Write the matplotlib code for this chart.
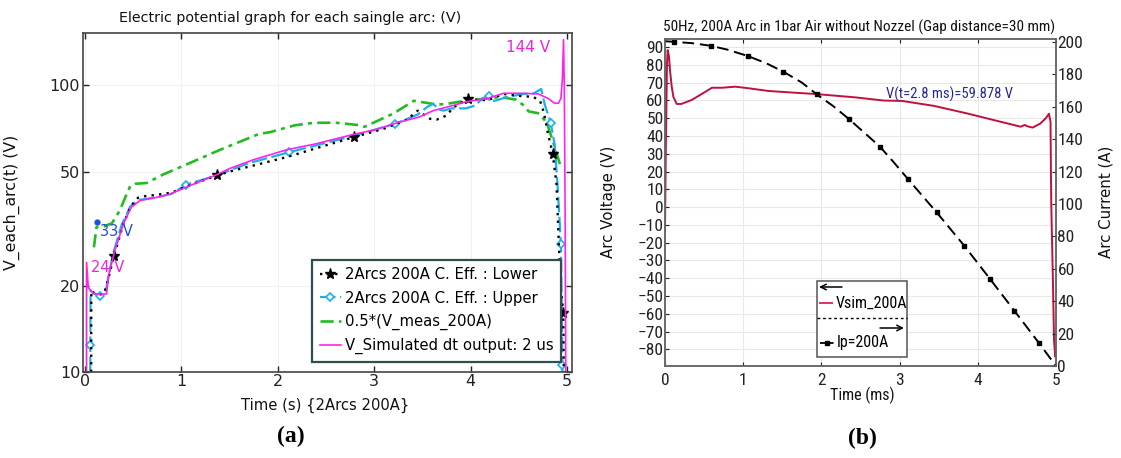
import numpy as np
import matplotlib
matplotlib.use("Agg")
import matplotlib.pyplot as plt
from matplotlib.ticker import NullLocator, FixedLocator, FixedFormatter
from matplotlib.patches import Rectangle
from matplotlib.lines import Line2D

W, H = 1121, 458
NARROW = ['Liberation Sans Narrow', 'DejaVu Sans Condensed', 'Roboto Condensed', 'DejaVu Sans']

# ---------------- panel (a) data ----------------
sim_t = [0.017, 0.0171, 0.035, 0.08, 0.12, 0.225, 0.24, 0.31, 0.40, 0.48, 0.57, 0.74, 0.88, 1.05,
         1.37, 1.50, 1.75, 2.09, 2.40, 2.78, 3.00, 3.27, 3.47, 3.61, 3.82, 3.95, 4.17, 4.34, 4.54,
         4.70, 4.80, 4.87, 4.91, 4.935, 4.95, 4.962, 4.97, 4.978, 4.985]
sim_v = [10, 24.1, 19.7, 18.9, 18.7, 18.7, 21.4, 26.5, 32.9, 37.5, 39.6, 40.6, 41.7, 44.1,
         48.8, 51.2, 55.0, 59.5, 62.5, 67.3, 69.8, 74.5, 77.5, 81.5, 85.0, 87.5, 89.8, 93.7, 93.7,
         93.2, 90.0, 86.5, 86.5, 90.0, 105, 144, 100, 40, 10]

lower_t = [0.065, 0.066, 0.10, 0.15, 0.20, 0.24, 0.30, 0.40, 0.48, 0.55, 0.62, 0.75, 0.90, 1.05,
           1.37, 1.50, 1.80, 2.09, 2.45, 2.79, 3.10, 3.34, 3.45, 3.58, 3.65, 3.75, 3.82, 3.92,
           3.97, 4.17, 4.34, 4.51, 4.65, 4.72, 4.76, 4.80, 4.85, 4.89, 4.91, 4.93, 4.96, 4.965]
lower_v = [10, 19.2, 18.8, 18.6, 18.8, 21.0, 25.3, 33.0, 38.0, 40.5, 41.0, 41.5, 42.2, 44.3,
           48.5, 50.0, 53.0, 56.1, 61.0, 65.9, 70.5, 75.9, 81.5, 76.3, 75.9, 78.4, 83.7, 87.5,
           89.3, 88.6, 93.2, 91.7, 91.0, 88.0, 80.0, 68.0, 57.7, 45.0, 30.0, 20.0, 16.1, 10]
lower_mark_t = [0.30, 1.37, 2.79, 3.97, 4.85, 4.96]

upper_t = [0.055, 0.056, 0.058, 0.10, 0.16, 0.21, 0.24, 0.29, 0.38, 0.47, 0.56, 0.74, 0.90, 1.05,
           1.37, 1.70, 2.12, 2.78, 3.22, 3.45, 3.55, 3.61, 3.68, 3.72, 3.80, 3.95, 4.05, 4.12,
           4.19, 4.23, 4.27, 4.38, 4.55, 4.65, 4.73, 4.77, 4.83, 4.87, 4.90, 4.935, 4.95, 4.952]
upper_v = [10, 12.4, 19.2, 18.7, 18.4, 18.8, 21.0, 25.7, 32.5, 37.8, 39.8, 40.6, 41.8, 45.0,
           48.5, 53.5, 58.4, 66.5, 73.4, 79.0, 84.0, 86.0, 82.0, 81.5, 83.0, 83.0, 85.0, 90.0,
           91.5, 88.0, 88.6, 91.0, 93.2, 93.5, 97.0, 85.0, 73.8, 62.0, 45.0, 27.9, 10.6, 10]
upper_mark_t = [0.056, 0.16, 1.05, 2.12, 3.22, 4.19, 4.83, 4.935, 4.95]

meas_t = [0.093, 0.12, 0.20, 0.28, 0.36, 0.43, 0.47, 0.52, 0.64, 0.81, 1.03, 1.40, 1.80, 1.92,
          2.18, 2.37, 2.60, 2.85, 2.90, 3.20, 3.41, 3.65, 3.75, 3.97, 4.17, 4.30, 4.47, 4.55,
          4.60, 4.71, 4.79, 4.87, 4.94]
meas_v = [27.2, 32.0, 32.2, 33.0, 36.5, 41.5, 44.5, 45.3, 45.6, 48.8, 52.5, 59.5, 67.5, 68.6,
          72.5, 73.9, 74.0, 72.5, 71.6, 79.7, 88.2, 85.6, 86.0, 88.6, 89.7, 91.0, 89.0, 85.0,
          81.0, 79.7, 73.8, 61.0, 51.0]
meas_start = (0.12, 33.3)

# ---------------- panel (b) data ----------------
vsim_t = [0.0, 0.01, 0.025, 0.034, 0.05, 0.064, 0.085, 0.107, 0.15, 0.21, 0.34, 0.47, 0.60, 0.73,
          0.90, 1.07, 1.32, 1.66, 1.92, 2.43, 2.80, 3.03, 3.44, 3.86, 4.29, 4.55, 4.60, 4.63,
          4.70, 4.80, 4.87, 4.91, 4.93, 4.935, 4.94, 4.96, 4.975, 4.99, 5.0]
vsim_v = [-13, 30, 80, 88.3, 85, 77, 68, 62, 58, 58, 60.2, 63.6, 67.1, 67.1,
          67.7, 66.8, 65.3, 64.3, 63.6, 61.7, 59.9, 59.7, 56.9, 52.7, 48.0, 45.2, 46.2, 45.5,
          44.7, 47.0, 50.0, 52.5, 48.0, 20.0, 0.0, -40, -75, -84, -80]

ip_t = [0.0, 0.11, 0.35, 0.587, 0.80, 1.059, 1.30, 1.514, 1.75, 1.942, 2.15, 2.352, 2.55, 2.749,
        2.93, 3.111, 3.473, 3.826, 4.157, 4.466, 4.779, 5.0]
ip_a = [200.5, 200.2, 199.3, 197.7, 195.3, 191.4, 186.8, 181.7, 175.0, 167.7, 160.5, 152.5, 144.0,
        135.4, 125.5, 115.2, 94.9, 74.3, 53.7, 34.2, 14.4, 0.0]
ip_mark_t = [0.11, 0.587, 1.059, 1.514, 1.942, 2.352, 2.749, 3.111, 3.473, 3.826, 4.157, 4.466, 4.779]

left_yticks = [10, 20, 50, 100]
x_ticks = [0, 1, 2, 3, 4, 5]
volt_ticks = list(range(-80, 100, 10))
curr_ticks = list(range(0, 220, 20))


def P(x, y):
    return x / W, 1 - y / H


def idx(ts, marks):
    ts = np.asarray(ts)
    return [int(np.argmin(np.abs(ts - m))) for m in marks]


fig = plt.figure(figsize=(W / 100, H / 100), dpi=100)

# ================= panel (a) =================
ax1 = fig.add_axes([83 / W, 1 - 372 / H, 489 / W, 339 / H])
ax1.set_yscale('log')
ax1.set_xlim(-0.02, 5.05)
ax1.set_ylim(10, 152)
ax1.yaxis.set_major_locator(FixedLocator(left_yticks))
ax1.yaxis.set_major_formatter(FixedFormatter([str(v) for v in left_yticks]))
ax1.yaxis.set_minor_locator(NullLocator())
ax1.set_xticks(x_ticks)
ax1.grid(True, color='#f2f2f2', lw=0.8)
ax1.tick_params(direction='in', top=True, right=True, length=4, width=1, labelsize=11.5,
                colors='#222222', pad=2)
ax1.tick_params(axis='x', pad=1.5)
for s in ax1.spines.values():
    s.set_color('#444444')
    s.set_linewidth(1.2)

l_meas, = ax1.plot(meas_t, meas_v, color='#22bb22', lw=1.9, ls=(0, (5, 2, 1.5, 2)),
                   label='0.5*(V_meas_200A)')
l_up, = ax1.plot(upper_t, upper_v, color='#1ab0f0', lw=1.6, ls=(0, (7, 2)),
                 marker='D', ms=4.5, mfc='white', mec='#1ab0f0', mew=1.2,
                 markevery=idx(upper_t, upper_mark_t),
                 label='2Arcs 200A C. Eff. : Upper')
l_low, = ax1.plot(lower_t, lower_v, color='black', lw=1.7, ls=(0, (1, 2.2)), marker='*', ms=8,
                  markevery=idx(lower_t, lower_mark_t),
                  label='2Arcs 200A C. Eff. : Lower')
l_sim, = ax1.plot(sim_t, sim_v, color='#ff22ee', lw=1.2, label='V_Simulated dt output: 2 us')
ax1.plot([meas_start[0]], [meas_start[1]], 'o', color='#1f4fe0', ms=3.5)

leg = ax1.legend(handles=[l_low, l_up, l_meas, l_sim], loc='lower right',
                 bbox_to_anchor=(0.978, 0.03), borderaxespad=0, fontsize=10.7,
                 fancybox=False, edgecolor='#2f4f4f', framealpha=1,
                 labelspacing=0.55, handlelength=1.4, handletextpad=0.3, borderpad=0.5)
leg.get_frame().set_linewidth(1.6)

fig.text(*P(550, 48), '144 V', color='#ee22dd', fontsize=11, ha='right', va='center')
fig.text(*P(100, 232), '33 V', color='#1f4fe0', fontsize=10.5, ha='left', va='center')
fig.text(*P(91, 268), '24 V', color='#ee22dd', fontsize=10.5, ha='left', va='center')

fig.text(*P(290, 18), 'Electric potential graph for each saingle arc: (V)', fontsize=10.3,
         ha='center', va='center', color='#111111')
fig.text(*P(12, 202), 'V_each_arc(t) (V)', fontsize=11.3, rotation=90, ha='center',
         va='center', color='#111111')
fig.text(*P(325, 405), 'Time (s) {2Arcs 200A}', fontsize=10.6, ha='center', va='center',
         color='#111111')
fig.text(*P(291, 436), '(a)', fontsize=17, ha='center', va='center',
         family=['Liberation Serif', 'DejaVu Serif'], weight='bold')

# ================= panel (b) =================
ax2 = fig.add_axes([665 / W, 1 - 366 / H, 391 / W, 327 / H])
ax3 = ax2.twinx()
ax2.set_xlim(0, 5)
ax2.set_ylim(-89.3, 94.5)
ax3.set_ylim(0, 201.9)
ax2.set_xticks(x_ticks)
ax2.set_yticks(volt_ticks)
ax3.set_yticks(curr_ticks)
ax2.grid(True, color='#e8e8e8', lw=0.8)
ax2.tick_params(direction='in', top=True, length=3, labelsize=12.5, colors='#222222', pad=1)
ax2.tick_params(axis='x', pad=5)
ax3.tick_params(direction='in', length=3, labelsize=12.5, colors='#222222', pad=1)
for lab in ax2.get_xticklabels() + ax2.get_yticklabels() + ax3.get_yticklabels():
    lab.set_family(NARROW)
for a in (ax2, ax3):
    for s in a.spines.values():
        s.set_color('#666666')
        s.set_linewidth(1.1)

ax2.plot(vsim_t, vsim_v, color='#c0103e', lw=1.4)
ax3.plot(ip_t, ip_a, color='black', lw=1.4, ls=(0, (6, 3)), marker='s', ms=3.5,
         markevery=idx(ip_t, ip_mark_t))

fig.text(*P(886, 94), 'V(t=2.8 ms)=59.878 V', color='#25259a', fontsize=10.5, ha='left',
         va='center', family=NARROW)

# manual legend (panel b)
def fx(x):
    return (x - 665) / 391


def fy(y):
    return (366 - y) / 327


T = ax3.transAxes
ax3.add_patch(Rectangle((fx(817), fy(357)), fx(907) - fx(817), fy(281) - fy(357),
                        transform=T, facecolor='white', edgecolor='#555555', lw=1.1,
                        zorder=10, clip_on=False))
ax3.annotate('', xy=(fx(819), fy(287)), xytext=(fx(842), fy(287)), xycoords=T, textcoords=T,
             arrowprops=dict(arrowstyle='->', color='black', lw=1.1, shrinkA=0, shrinkB=0),
             zorder=11)
ax3.add_line(Line2D([fx(820), fx(832)], [fy(303), fy(303)], transform=T, color='#e0306a',
                    lw=1.4, zorder=11))
ax3.text(fx(836), fy(303), 'Vsim_200A', transform=T, fontsize=11.5, va='center', ha='left',
         family=NARROW, zorder=11)
ax3.add_line(Line2D([fx(817), fx(907)], [fy(318), fy(318)], transform=T, color='black',
                    lw=1.0, ls=(0, (2, 2)), zorder=11))
ax3.annotate('', xy=(fx(904), fy(328)), xytext=(fx(880), fy(328)), xycoords=T, textcoords=T,
             arrowprops=dict(arrowstyle='->', color='black', lw=1.1, shrinkA=0, shrinkB=0),
             zorder=11)
ax3.add_line(Line2D([fx(820), fx(834)], [fy(343), fy(343)], transform=T, color='black',
                    lw=1.3, ls=(0, (3, 1.5)), zorder=11))
ax3.add_line(Line2D([fx(827)], [fy(343)], transform=T, color='black', marker='s', ms=3.5,
                    ls='none', zorder=11))
ax3.text(fx(837), fy(343), 'Ip=200A', transform=T, fontsize=11.5, va='center', ha='left',
         family=NARROW, zorder=11)

fig.text(*P(859, 27), '50Hz, 200A Arc in 1bar Air without Nozzel (Gap distance=30 mm)',
         fontsize=11, ha='center', va='center', family=NARROW, color='#111111')
fig.text(*P(609, 202), 'Arc Voltage (V)', fontsize=10.8, rotation=90, ha='center',
         va='center', color='#111111')
fig.text(*P(1106, 202), 'Arc Current (A)', fontsize=10.8, rotation=90, ha='center',
         va='center', color='#111111')
fig.text(*P(862, 395), 'Time (ms)', fontsize=11.5, ha='center', va='center', family=NARROW,
         color='#111111')
fig.text(*P(862, 438), '(b)', fontsize=17, ha='center', va='center',
         family=['Liberation Serif', 'DejaVu Serif'], weight='bold')

fig.savefig('out.png', dpi=100)
